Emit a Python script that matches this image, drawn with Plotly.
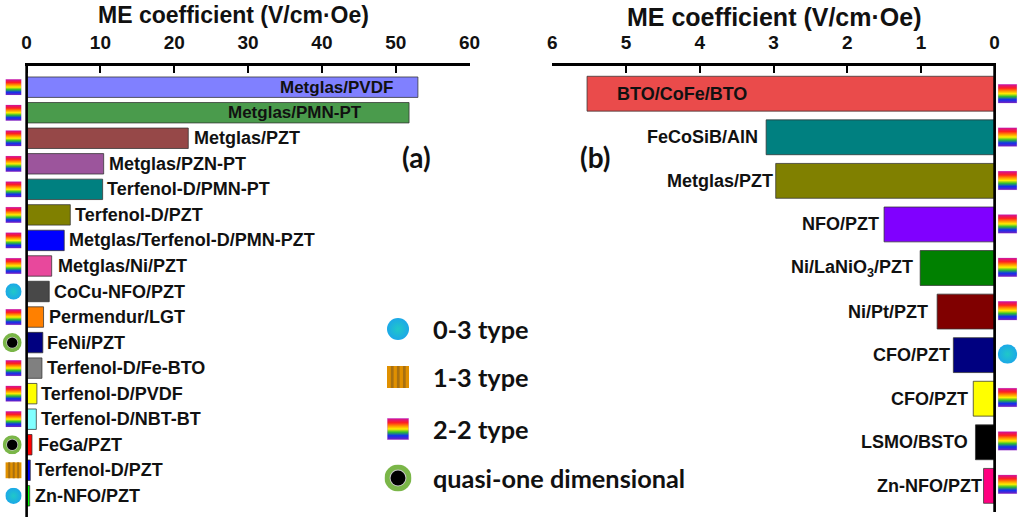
import base64

import plotly.graph_objects as go

W, H = 1024, 520

# Panel (a)
a_labels = ["Metglas/PVDF", "Metglas/PMN-PT", "Metglas/PZT", "Metglas/PZN-PT", "Terfenol-D/PMN-PT",
            "Terfenol-D/PZT", "Metglas/Terfenol-D/PMN-PZT", "Metglas/Ni/PZT", "CoCu-NFO/PZT",
            "Permendur/LGT", "FeNi/PZT", "Terfenol-D/Fe-BTO", "Terfenol-D/PVDF", "Terfenol-D/NBT-BT",
            "FeGa/PZT", "Terfenol-D/PZT", "Zn-NFO/PZT"]
a_values = [53.0, 51.8, 21.9, 10.44, 10.3, 5.92, 5.1, 3.4, 3.07, 2.3, 2.2, 2.08, 1.4, 1.32, 0.73, 0.5, 0.42]
a_types = ["2-2", "2-2", "2-2", "2-2", "2-2", "2-2", "2-2", "2-2", "0-3", "2-2", "quasi", "2-2", "2-2", "2-2",
           "quasi", "1-3", "0-3"]
a_colors = ["#8080ff", "#4a9b4c", "#964848", "#9c559c", "#008080", "#808000", "#0000ff", "#e8489c", "#484848",
            "#ff8000", "#000080", "#808080", "#ffff00", "#80ffff", "#ff0000", "#0000ff", "#00ff00"]
a_ticks = [0, 10, 20, 30, 40, 50, 60]

# Panel (b)
b_labels = ["BTO/CoFe/BTO", "FeCoSiB/AlN", "Metglas/PZT", "NFO/PZT", "Ni/LaNiO<sub>3</sub>/PZT", "Ni/Pt/PZT",
            "CFO/PZT", "CFO/PZT", "LSMO/BSTO", "Zn-NFO/PZT"]
b_values = [5.53, 3.10, 2.97, 1.50, 1.01, 0.78, 0.56, 0.29, 0.26, 0.15]
b_types = ["2-2", "2-2", "2-2", "2-2", "2-2", "2-2", "0-3", "2-2", "2-2", "2-2"]
b_colors = ["#ea4b4b", "#008080", "#808000", "#8000ff", "#008000", "#800000", "#000080", "#ffff00", "#000000",
            "#ff0080"]
b_ticks = [0, 1, 2, 3, 4, 5, 6]

legend_types = ["0-3", "1-3", "2-2", "quasi"]
legend_names = ["0-3 type", "1-3 type", "2-2 type", "quasi-one dimensional"]

# label offsets from bar end, px
a_gaps = [-23, -45, 4, 3, 2, 3, 3, 4, 3, 3, 2, 3, 2, 3, 4, 3, 3]
b_gaps = [28, -6, -1, -3, -5, -7, -1, -3, -5, 0]

FONT = "Liberation Sans"
INK = "#111111"
TITLE = "ME coefficient (V/cm·Oe)"

SVG = {
    "2-2": """<svg xmlns='http://www.w3.org/2000/svg' width='40' height='40'><defs>
<linearGradient id='g' x1='0' y1='0' x2='0' y2='1'>
<stop offset='0' stop-color='#d0109c'/><stop offset='0.2' stop-color='#ff2020'/>
<stop offset='0.35' stop-color='#ff9000'/><stop offset='0.5' stop-color='#ffee00'/>
<stop offset='0.65' stop-color='#30c030'/><stop offset='0.82' stop-color='#1030f0'/>
<stop offset='1' stop-color='#7020c0'/></linearGradient></defs>
<rect width='40' height='40' fill='#d8a0e8'/><rect x='1' y='1' width='38' height='38' fill='url(#g)'/></svg>""",
    "1-3": """<svg xmlns='http://www.w3.org/2000/svg' width='40' height='40'>
<rect width='40' height='40' fill='#e09000'/>
<rect x='7' width='5' height='40' fill='#a87010'/><rect x='18' width='5' height='40' fill='#a87010'/>
<rect x='29' width='5' height='40' fill='#a87010'/></svg>""",
    "0-3": """<svg xmlns='http://www.w3.org/2000/svg' width='40' height='40'><defs>
<radialGradient id='g'><stop offset='0' stop-color='#20c8c8'/><stop offset='1' stop-color='#1ca8e8'/>
</radialGradient></defs><circle cx='20' cy='20' r='20' fill='url(#g)'/></svg>""",
    "quasi": """<svg xmlns='http://www.w3.org/2000/svg' width='40' height='40'>
<circle cx='20' cy='20' r='20' fill='#7ab648'/><circle cx='20' cy='20' r='12.5' fill='#c8c8c8'/>
<circle cx='20' cy='20' r='11' fill='#000000'/></svg>""",
}


def icon(kind, cx, cy, size):
    uri = "data:image/svg+xml;base64," + base64.b64encode(SVG[kind].encode()).decode()
    return dict(source=uri, xref="paper", yref="paper", x=cx / W, y=1 - cy / H, sizex=size / W, sizey=size / H,
                xanchor="center", yanchor="middle", sizing="stretch", layer="above")


def paper_text(text, px, py, size, family=FONT, xanchor="center"):
    return dict(x=px / W, y=1 - py / H, xref="paper", yref="paper", text=text, showarrow=False,
                xanchor=xanchor, yanchor="middle", font=dict(size=size, weight=700, family=family))


fig = go.Figure()
fig.add_trace(go.Bar(y=list(range(len(a_values))), x=a_values, orientation="h", width=0.8,
                     marker=dict(color=a_colors, line=dict(color="rgba(50,50,50,0.75)", width=1)),
                     xaxis="x", yaxis="y", hoverinfo="skip"))
fig.add_trace(go.Bar(y=list(range(len(b_values))), x=b_values, orientation="h", width=0.8,
                     marker=dict(color=b_colors, line=dict(color="rgba(50,50,50,0.75)", width=1)),
                     xaxis="x2", yaxis="y2", hoverinfo="skip"))

annotations = []
for i, (name, val, gap) in enumerate(zip(a_labels, a_values, a_gaps)):
    # the two labels inside the long bars are set a little smaller
    annotations.append(dict(x=val, y=i, xref="x", yref="y", text=name, showarrow=False, xshift=gap,
                            xanchor="right" if gap < 0 else "left",
                            font=dict(size=17 if gap < 0 else 18, weight=700)))
for i, (name, val, gap) in enumerate(zip(b_labels, b_values, b_gaps)):
    annotations.append(dict(x=val, y=i, xref="x2", yref="y2", text=name, showarrow=False, xshift=gap,
                            xanchor="left" if gap > 0 else "right", font=dict(size=18, weight=700)))
annotations.append(paper_text(TITLE, 233.5, 15, 23))
annotations.append(paper_text(TITLE, 774, 17, 25))
annotations.append(paper_text("(a)", 416, 157, 28, "Lato"))
annotations.append(paper_text("(b)", 595, 157, 28, "Lato"))

images = []
a_rows = (87.2 + 25.54 * i for i in range(len(a_types)))
for kind, cy in zip(a_types, a_rows):
    if kind == "quasi":
        images.append(icon(kind, 12.2, cy, 19))
    else:
        images.append(icon(kind, 13.5, cy, 16.3))
b_rows = (93.7 + 43.4 * i for i in range(len(b_types)))
for kind, cy in zip(b_types, b_rows):
    images.append(icon(kind, 1007.5, cy, 19.5))

legend_y = [329, 377, 429, 478]
legend_size = [22, 22, 22, 27]
for kind, name, cy, size in zip(legend_types, legend_names, legend_y, legend_size):
    images.append(icon(kind, 398, cy, size))
    annotations.append(paper_text(name, 431, cy, 25.3, "Lato", "left"))

axis_common = dict(
    side="top",
    showline=True,
    linecolor="#000000",
    linewidth=2.7,
    showgrid=False,
    zeroline=False,
    ticks="inside",
    ticklen=7,
    tickwidth=2,
    tickcolor="#000000",
    ticklabelstandoff=7,
    tickfont=dict(size=19, weight=700, color=INK),
)
side_common = dict(showline=False, showgrid=False, zeroline=False, showticklabels=False, ticks="")

fig.update_layout(
    width=W,
    height=H,
    margin=dict(l=0, r=0, t=0, b=0, autoexpand=False),
    paper_bgcolor="#ffffff",
    plot_bgcolor="#ffffff",
    showlegend=False,
    font=dict(family=FONT, color=INK),
    annotations=annotations,
    images=images,
    # a little room past zero so the baseline shape is not clipped
    xaxis=dict(domain=[25.1 / W, 469.6 / W], range=[-0.2, 60], tickvals=a_ticks, anchor="y", **axis_common),
    yaxis=dict(domain=[1 - 517 / H, 1 - 66 / H], range=[16.83, -0.83], anchor="x", **side_common),
    xaxis2=dict(domain=[552.4 / W, 996.1 / W], range=[6, -0.02], tickvals=b_ticks, anchor="y2", **axis_common),
    yaxis2=dict(domain=[1 - 512 / H, 1 - 66 / H], range=[9.6, -0.636], anchor="x2", **side_common),
    shapes=[
        dict(type="line", xref="x", yref="y domain", x0=0, x1=0, y0=0, y1=1,
             line=dict(color="#000000", width=2.7), layer="above"),
        dict(type="line", xref="x2", yref="y2 domain", x0=0, x1=0, y0=0, y1=1,
             line=dict(color="#000000", width=2.7), layer="above"),
    ],
)

fig.write_html("out.html", config={"displayModeBar": False}, post_script="document.body.style.margin='0';")
